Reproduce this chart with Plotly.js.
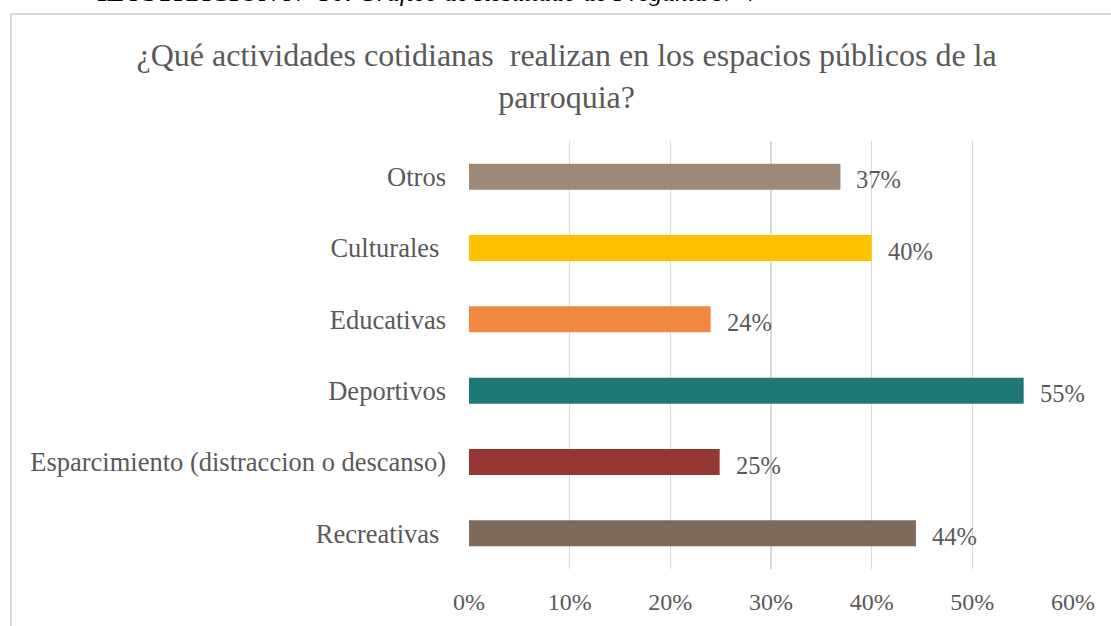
<!DOCTYPE html>
<html>
<head>
<meta charset="utf-8">
<script src="https://cdn.plot.ly/plotly-3.0.1.min.js"></script>
<style>
  html, body { margin: 0; padding: 0; background: #fff; overflow: hidden; }
  #chart { width: 1111px; height: 626px; }
  #frame { position: absolute; left: 10px; top: 13px; width: 1120px; height: 640px;
           border: 2px solid #d9d9d9; box-sizing: border-box; pointer-events: none; }
</style>
</head>
<body>
<div id="chart"></div>
<div id="frame"></div>
<script>
const categories = ['Recreativas\u00a0', 'Esparcimiento (distraccion o descanso)', 'Deportivos', 'Educativas', 'Culturales\u00a0', 'Otros'];
const values = [0.444, 0.249, 0.551, 0.240, 0.400, 0.369];
const valueLabels = ['44%', '25%', '55%', '24%', '40%', '37%'];
const barColors = ['#7f6a5c', '#943634', '#207876', '#f0883f', '#ffc000', '#9e8878'];
const xTickValues = [0, 0.1, 0.2, 0.3, 0.4, 0.5, 0.6];
const xTickLabels = ['0%', '10%', '20%', '30%', '40%', '50%', '60%'];

const font = "'Liberation Serif', 'Times New Roman', serif";
const grey = '#595959';

const trace = {
  type: 'bar',
  orientation: 'h',
  y: categories,
  x: values,
  marker: { color: barColors },
  hoverinfo: 'skip'
};

const annotations = categories.map((c, i) => ({
  x: values[i], y: c, xref: 'x', yref: 'y',
  text: valueLabels[i], showarrow: false,
  xanchor: 'left', yanchor: 'middle', xshift: 14, yshift: -3,
  font: { family: font, size: 24.5, color: grey }
}));
annotations.push({
  xref: 'paper', yref: 'paper', x: -0.62, y: 1.308, xanchor: 'left', yanchor: 'bottom',
  showarrow: false,
  text: '<b>ILUSTRACIÓN N° 30:</b> <i>Gráfico de Resultado de Pregunta N° 7</i>',
  font: { family: font, size: 25.5, color: '#000' }
});

const layout = {
  width: 1111, height: 626,
  margin: { l: 469, r: 38, t: 141, b: 57, pad: 0 },
  paper_bgcolor: '#fff', plot_bgcolor: '#fff',
  showlegend: false,
  bargap: 0.635,
  title: {
    text: '¿Qué actividades cotidianas  realizan en los espacios públicos de la<br>parroquia?',
    font: { family: font, size: 32, color: grey },
    xref: 'container', x: 0.51, xanchor: 'center',
    yref: 'container', y: 0.894, yanchor: 'top'
  },
  xaxis: {
    range: [0, 0.6],
    tickvals: xTickValues, ticktext: xTickLabels,
    showgrid: true, gridcolor: '#d9d9d9', gridwidth: 1.5,
    zeroline: false, showline: false, ticks: '',
    ticklabelstandoff: 16,
    tickfont: { family: font, size: 24, color: grey },
    fixedrange: true
  },
  yaxis: {
    showgrid: false, zeroline: false, showline: false, ticks: '',
    ticklabelstandoff: 22,
    tickfont: { family: font, size: 26.5, color: grey },
    fixedrange: true
  },
  annotations: annotations
};

Plotly.newPlot('chart', [trace], layout, { displayModeBar: false, staticPlot: true });
</script>
</body>
</html>
